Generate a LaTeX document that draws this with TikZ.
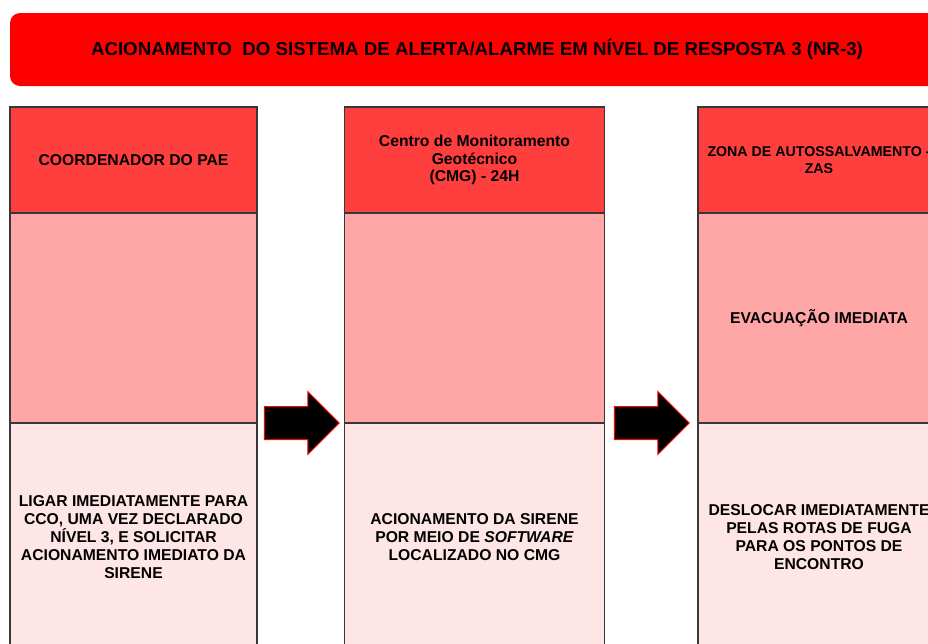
\documentclass[tikz,border=0pt]{standalone}
\usepackage{fontspec}
\setmainfont{Liberation Sans}
\usetikzlibrary{shapes.arrows}

\definecolor{titleRed}{RGB}{255,0,0}
\definecolor{headRed}{RGB}{255,62,62}
\definecolor{midRed}{RGB}{255,166,166}
\definecolor{botRed}{RGB}{255,230,230}
\definecolor{boxLine}{RGB}{55,55,55}

\begin{document}
\begin{tikzpicture}[x=1pt,y=-1pt,
        banner/.style={rectangle, rounded corners=10pt, fill=titleRed, minimum width=934pt, minimum height=73pt, font=\bfseries\fontsize{18.7}{22}\selectfont},
        head/.style={rectangle, draw=boxLine, line width=1.4pt, fill=headRed, minimum height=106pt, align=center, inner sep=0pt, font=\bfseries\fontsize{15.7}{17.5}\selectfont},
        mid/.style={rectangle, draw=boxLine, line width=1.4pt, fill=midRed, minimum height=210pt, align=center, inner sep=0pt, font=\bfseries\fontsize{15.7}{18}\selectfont},
        bot/.style={rectangle, draw=boxLine, line width=1.4pt, fill=botRed, minimum height=228pt, align=center, inner sep=0pt, font=\bfseries\fontsize{15.7}{18}\selectfont},
        step arrow/.style={single arrow, draw=red, line width=1pt, fill=black, minimum height=75pt, inner xsep=0pt, inner ysep=16pt, single arrow head extend=15pt, single arrow tip angle=90}]
                \useasboundingbox (0,0) rectangle (928,643);
                \clip (0,0) rectangle (928,643);
                \node[banner] (title) at (477,49.5) {ACIONAMENTO \ DO SISTEMA DE ALERTA/ALARME EM NÍVEL DE RESPOSTA 3 (NR-3)};
                
                % coluna 1
                \node[head, minimum width=247pt] (paeHead) at (133.5,160) {COORDENADOR DO PAE};
                \node[mid, minimum width=247pt] (paeMid) at (133.5,318) {};
                \node[bot, minimum width=247pt] (paeBot) at (133.5,537) {LIGAR IMEDIATAMENTE PARA\\CCO, UMA VEZ DECLARADO\\NÍVEL 3, E SOLICITAR\\ACIONAMENTO IMEDIATO DA\\SIRENE};
                
                % coluna 2
                \node[head, minimum width=260pt] (cmgHead) at (474.5,160) {Centro de Monitoramento\\Geotécnico\\(CMG) - 24H};
                \node[mid, minimum width=260pt] (cmgMid) at (474.5,318) {};
                \node[bot, minimum width=260pt] (cmgBot) at (474.5,537) {ACIONAMENTO DA SIRENE\\POR MEIO DE \textit{SOFTWARE}\\LOCALIZADO NO CMG};
                
                % coluna 3
                \node[head, minimum width=242pt, font=\bfseries\fontsize{14.2}{16.5}\selectfont] (zasHead) at (819,160) {ZONA DE AUTOSSALVAMENTO -\\ZAS};
                \node[mid, minimum width=242pt] (zasMid) at (819,318) {\raisebox{-3pt}{EVACUAÇÃO IMEDIATA}};
                \node[bot, minimum width=242pt] (zasBot) at (819,537) {DESLOCAR IMEDIATAMENTE\\PELAS ROTAS DE FUGA\\PARA OS PONTOS DE\\ENCONTRO};
                
                % setas
                \node[step arrow] (arrowA) at (293.5,423) {};
                \node[step arrow] (arrowB) at (643.5,423) {};
            \end{tikzpicture}
\end{document}
